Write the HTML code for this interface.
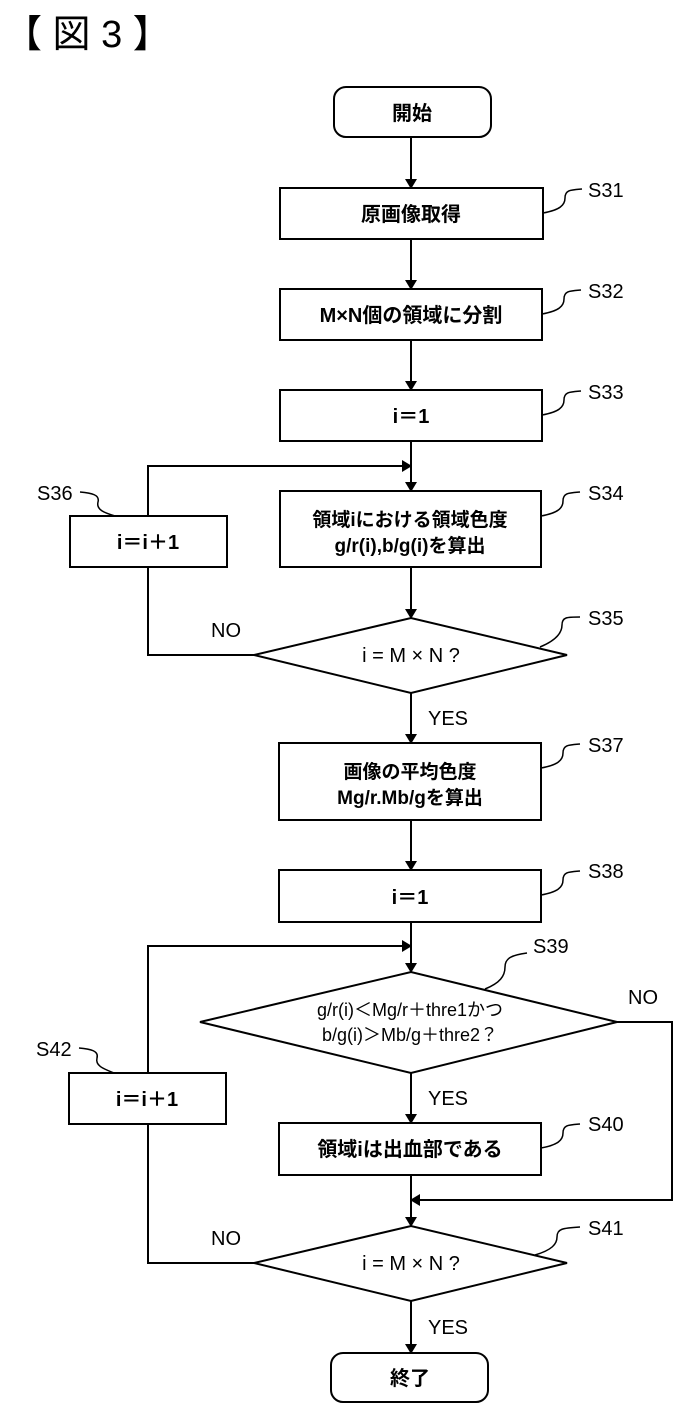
<!DOCTYPE html>
<html><head><meta charset="utf-8"><style>
body{margin:0;background:#fff;}
svg text{font-family:"Liberation Sans","Noto Sans CJK JP",sans-serif;fill:#000;}
</style></head><body>
<svg width="679" height="1403" viewBox="0 0 679 1403" xmlns="http://www.w3.org/2000/svg">
<defs><marker id="a" markerWidth="10" markerHeight="12" refX="9" refY="6" orient="auto" markerUnits="userSpaceOnUse"><path d="M0,0 L10,6 L0,12 z" fill="#000"/></marker></defs>
<g stroke="#000" stroke-width="2" fill="none">
<rect x="334" y="87" width="157" height="50" rx="12"/>
<rect x="280" y="188" width="263" height="51"/>
<rect x="280" y="289" width="262" height="51"/>
<rect x="280" y="390" width="262" height="51"/>
<rect x="280" y="491" width="261" height="76"/>
<rect x="70" y="516" width="157" height="51"/>
<polygon points="254,655 411,618 567,655 411,693"/>
<rect x="279" y="743" width="262" height="77"/>
<rect x="279" y="870" width="262" height="52"/>
<polygon points="200,1022 411,972 617,1022 411,1073"/>
<rect x="69" y="1073" width="157" height="51"/>
<rect x="279" y="1123" width="262" height="52"/>
<polygon points="254,1263 411,1226 567,1263 411,1301"/>
<rect x="331" y="1353" width="157" height="49" rx="12"/>
<line x1="411" y1="137" x2="411" y2="188" marker-end="url(#a)"/>
<line x1="411" y1="239" x2="411" y2="289" marker-end="url(#a)"/>
<line x1="411" y1="340" x2="411" y2="390" marker-end="url(#a)"/>
<line x1="411" y1="441" x2="411" y2="491" marker-end="url(#a)"/>
<polyline points="148,516 148,466 411,466" marker-end="url(#a)"/>
<line x1="411" y1="567" x2="411" y2="618" marker-end="url(#a)"/>
<polyline points="254,655 148,655 148,567"/>
<line x1="411" y1="693" x2="411" y2="743" marker-end="url(#a)"/>
<line x1="411" y1="820" x2="411" y2="870" marker-end="url(#a)"/>
<line x1="411" y1="922" x2="411" y2="972" marker-end="url(#a)"/>
<polyline points="148,1073 148,946 411,946" marker-end="url(#a)"/>
<line x1="411" y1="1073" x2="411" y2="1123" marker-end="url(#a)"/>
<polyline points="617,1022 672,1022 672,1200 411,1200" marker-end="url(#a)"/>
<line x1="411" y1="1175" x2="411" y2="1226" marker-end="url(#a)"/>
<polyline points="254,1263 148,1263 148,1124"/>
<line x1="411" y1="1301" x2="411" y2="1353" marker-end="url(#a)"/>
<g stroke-width="1.5">
<path d="M543,213 C560,210 565,205 565,198 C565,190 570,190 582,189"/>
<path d="M542,314 C559,311 564,306 564,299 C564,291 569,291 581,290"/>
<path d="M542,415 C559,412 564,407 564,400 C564,392 569,392 581,391"/>
<path d="M541,516 C558,513 563,508 563,501 C563,493 568,493 580,492"/>
<path d="M540,647 C557,640 562,632 562,625 C562,617 567,617 580,617"/>
<path d="M541,768 C558,765 563,760 563,753 C563,745 568,745 580,744"/>
<path d="M541,895 C558,892 563,887 563,880 C563,872 568,872 580,871"/>
<path d="M485,989 C500,983 505,976 505,967 C505,958 512,955 527,953"/>
<path d="M541,1148 C558,1145 563,1140 563,1133 C563,1125 568,1125 580,1124"/>
<path d="M535,1255 C552,1250 557,1244 557,1237 C557,1229 562,1228 580,1227"/>
<path d="M80,492 C92,493 100,495 98,502 C96,510 105,513 115,516"/>
<path d="M79,1048 C91,1049 99,1051 97,1058 C95,1066 104,1069 114,1073"/>
</g>
</g>
<text x="4" y="47" font-size="38">【 図 3 】</text>
<g font-size="20" text-anchor="middle" font-weight="bold">
<text x="412" y="120">開始</text>
<text x="411" y="221">原画像取得</text>
<text x="411" y="322">M×N個の領域に分割</text>
<text x="411" y="423">i＝1</text>
<text x="410" y="526" font-size="19">領域iにおける領域色度</text>
<text x="410" y="552" font-size="19">g/r(i),b/g(i)を算出</text>
<text x="148" y="549">i＝i＋1</text>
<text x="411" y="662" font-weight="normal">i = M × N ?</text>
<text x="410" y="778" font-size="19">画像の平均色度</text>
<text x="410" y="804" font-size="19">Mg/r.Mb/gを算出</text>
<text x="410" y="904">i＝1</text>
<text x="410" y="1016" font-weight="normal" font-size="18">g/r(i)＜Mg/r＋thre1かつ</text>
<text x="410" y="1041" font-weight="normal" font-size="18">b/g(i)＞Mb/g＋thre2？</text>
<text x="147" y="1106">i＝i＋1</text>
<text x="410" y="1156">領域iは出血部である</text>
<text x="411" y="1270" font-weight="normal">i = M × N ?</text>
<text x="410" y="1385">終了</text>
</g>
<g font-size="20">
<text x="588" y="197">S31</text>
<text x="588" y="298">S32</text>
<text x="588" y="399">S33</text>
<text x="588" y="500">S34</text>
<text x="588" y="625">S35</text>
<text x="37" y="500">S36</text>
<text x="588" y="752">S37</text>
<text x="588" y="878">S38</text>
<text x="533" y="953">S39</text>
<text x="588" y="1131">S40</text>
<text x="588" y="1235">S41</text>
<text x="36" y="1056">S42</text>
<text x="211" y="637">NO</text>
<text x="428" y="725">YES</text>
<text x="628" y="1004">NO</text>
<text x="428" y="1105">YES</text>
<text x="211" y="1245">NO</text>
<text x="428" y="1334">YES</text>
</g>
</svg>
</body></html>
